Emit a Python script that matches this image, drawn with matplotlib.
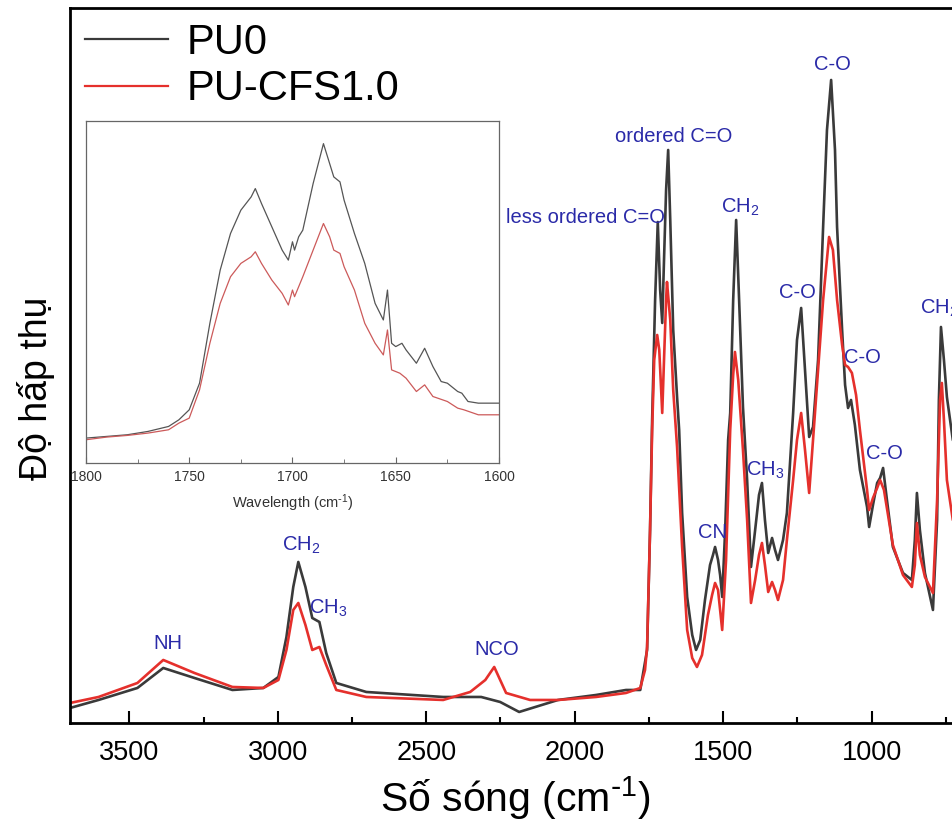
import matplotlib
matplotlib.use("Agg")
import matplotlib.pyplot as plt
from matplotlib.ticker import MultipleLocator

plt.rcParams["font.family"] = ["Liberation Sans", "DejaVu Sans"]
plt.rcParams["mathtext.default"] = "regular"

# ---- main FTIR spectra (wavenumber cm-1, absorbance a.u.) ----
wn_pu0 = [3700, 3604, 3473, 3386, 3281, 3153, 3049, 2998, 2971, 2948, 2931, 2907,
          2884, 2860, 2837, 2803, 2702, 2443, 2315, 2251, 2187, 2056, 1928, 1827,
          1779, 1756, 1746, 1739, 1729, 1720, 1712, 1705, 1699, 1692, 1685, 1678,
          1668, 1655, 1648, 1638, 1621, 1604, 1591, 1577, 1561, 1544, 1534, 1527,
          1517, 1510, 1503, 1493, 1483, 1476, 1466, 1456, 1446, 1433, 1419, 1406,
          1392, 1379, 1369, 1359, 1348, 1335, 1325, 1315, 1298, 1285, 1264, 1251,
          1237, 1224, 1210, 1197, 1180, 1163, 1150, 1136, 1123, 1116, 1099, 1089,
          1079, 1069, 1056, 1039, 1015, 1008, 995, 981, 971, 961, 948, 928, 894,
          864, 854, 847, 837, 820, 793, 779, 773, 766, 756, 746, 726, 650]
abs_pu0 = [0.15, 0.23, 0.35, 0.55, 0.45, 0.33, 0.35, 0.46, 0.86, 1.36, 1.61, 1.36,
           1.05, 1.01, 0.70, 0.40, 0.31, 0.26, 0.26, 0.21, 0.11, 0.23, 0.28, 0.33,
           0.33, 0.73, 1.93, 3.03, 4.23, 5.01, 4.33, 4.00, 4.63, 5.33, 5.73, 5.03,
           3.93, 3.26, 2.93, 2.10, 1.26, 0.88, 0.73, 0.83, 1.23, 1.58, 1.68, 1.76,
           1.63, 1.48, 1.26, 1.93, 2.83, 3.10, 4.23, 5.03, 4.23, 3.16, 2.43, 1.56,
           1.93, 2.28, 2.40, 2.03, 1.70, 1.85, 1.73, 1.63, 1.83, 2.10, 3.10, 3.83,
           4.15, 3.53, 2.86, 2.96, 3.63, 4.96, 5.93, 6.43, 5.73, 4.96, 3.93, 3.38,
           3.15, 3.23, 2.98, 2.53, 2.16, 1.96, 2.18, 2.40, 2.45, 2.55, 2.23, 1.76, 1.50,
           1.43, 1.83, 2.30, 1.93, 1.50, 1.13, 2.03, 3.23, 3.96, 3.63, 3.26, 2.83, 2.40]

wn_cfs = [3700, 3604, 3473, 3386, 3281, 3153, 3049, 2998, 2971, 2948, 2931, 2907,
          2884, 2860, 2837, 2803, 2702, 2443, 2352, 2301, 2271, 2251, 2231, 2150,
          2056, 1928, 1827, 1779, 1763, 1756, 1746, 1739, 1732, 1722, 1715, 1705,
          1699, 1692, 1689, 1678, 1668, 1655, 1638, 1621, 1604, 1588, 1571, 1551,
          1537, 1527, 1517, 1503, 1490, 1476, 1466, 1460, 1449, 1433, 1419, 1406,
          1392, 1379, 1369, 1359, 1348, 1335, 1325, 1315, 1298, 1285, 1264, 1251,
          1237, 1224, 1210, 1197, 1180, 1163, 1143, 1130, 1116, 1099, 1089, 1079,
          1066, 1052, 1039, 1015, 1008, 995, 981, 971, 958, 928, 894, 864, 854, 847,
          837, 820, 793, 779, 769, 763, 756, 746, 726, 650]
abs_cfs = [0.20, 0.26, 0.40, 0.63, 0.50, 0.36, 0.35, 0.43, 0.73, 1.13, 1.20, 0.98,
           0.73, 0.76, 0.58, 0.33, 0.26, 0.23, 0.31, 0.43, 0.56, 0.43, 0.30, 0.23,
           0.23, 0.26, 0.30, 0.35, 0.53, 0.76, 1.93, 2.93, 3.63, 3.88, 3.73, 3.10,
           3.63, 4.23, 4.41, 4.03, 3.33, 2.76, 1.76, 0.93, 0.65, 0.56, 0.68, 1.08,
           1.28, 1.40, 1.33, 0.93, 1.63, 2.93, 3.48, 3.71, 3.43, 2.73, 2.03, 1.20,
           1.43, 1.68, 1.80, 1.58, 1.31, 1.41, 1.33, 1.23, 1.43, 1.83, 2.43, 2.83,
           3.10, 2.73, 2.30, 2.83, 3.53, 4.23, 4.86, 4.73, 4.23, 3.78, 3.58, 3.56,
           3.50, 3.28, 2.93, 2.33, 2.13, 2.25, 2.35, 2.43, 2.33, 1.78, 1.48, 1.36,
           1.58, 2.00, 1.68, 1.46, 1.30, 2.23, 3.23, 3.40, 3.03, 2.43, 2.03, 1.90]

# ---- inset: carbonyl region ----
wn_inset_pu0 = [1800, 1790, 1780, 1770, 1760, 1755, 1750, 1745, 1740, 1735, 1730,
                1725, 1720, 1718, 1715, 1710, 1705, 1702, 1700, 1699, 1697, 1695,
                1690, 1685, 1683, 1680, 1677, 1675, 1670, 1665, 1660, 1656, 1654,
                1652, 1650, 1647, 1645, 1640, 1636, 1632, 1628, 1625, 1620, 1618,
                1615, 1610, 1600]
abs_inset_pu0 = [0.55, 0.60, 0.65, 0.75, 0.90, 1.10, 1.40, 2.20, 4.00, 5.60, 6.70,
                 7.40, 7.80, 8.05, 7.60, 6.90, 6.20, 5.90, 6.45, 6.20, 6.60, 6.80,
                 8.20, 9.40, 9.00, 8.40, 8.25, 7.70, 6.70, 5.80, 4.60, 4.10, 5.00,
                 3.40, 3.30, 3.40, 3.20, 2.80, 3.25, 2.70, 2.25, 2.20, 1.95, 1.90,
                 1.65, 1.60, 1.60]
wn_inset_cfs = [1800, 1790, 1780, 1770, 1760, 1755, 1750, 1745, 1740, 1735, 1730,
                1725, 1720, 1718, 1715, 1710, 1705, 1702, 1700, 1699, 1695, 1690,
                1685, 1682, 1680, 1677, 1675, 1670, 1665, 1660, 1656, 1654, 1652,
                1648, 1645, 1640, 1636, 1632, 1625, 1620, 1617, 1610, 1600]
abs_inset_cfs = [0.50, 0.58, 0.63, 0.70, 0.80, 1.00, 1.15, 2.00, 3.40, 4.60, 5.40,
                 5.80, 6.00, 6.15, 5.80, 5.30, 4.90, 4.55, 5.00, 4.80, 5.40, 6.20,
                 7.00, 6.60, 6.20, 6.10, 5.70, 5.00, 4.00, 3.40, 3.05, 3.80, 2.60,
                 2.50, 2.35, 1.95, 2.15, 1.80, 1.65, 1.45, 1.40, 1.25, 1.25]

# band assignments: (text, wavenumber, absorbance, ha)
bands = [
    ("NH", 3369, 0.79, "center"),
    ("CH$_2$", 2921, 1.78, "center"),
    ("CH$_3$", 2830, 1.15, "center"),
    ("NCO", 2264, 0.73, "center"),
    ("less ordered C=O", 1695, 5.05, "right"),
    ("ordered C=O", 1668, 5.86, "center"),
    ("CH$_2$", 1443, 5.16, "center"),
    ("CN", 1534, 1.90, "center"),
    ("CH$_3$", 1359, 2.53, "center"),
    ("C-O", 1251, 4.30, "center"),
    ("C-O", 1133, 6.58, "center"),
    ("C-O", 1029, 3.65, "center"),
    ("C-O", 955, 2.69, "center"),
    ("CH$_2$", 772, 4.15, "center"),
]

C_PU0 = "#3a3a3a"
C_CFS = "#e5302c"
C_BAND = "#2a2aa8"

fig = plt.figure(figsize=(9.53, 8.21), dpi=100)
ax = fig.add_axes([0.0735, 0.1194, 0.950, 0.8709])

ax.plot(wn_pu0, abs_pu0, color=C_PU0, lw=1.9, label="PU0")
ax.plot(wn_cfs, abs_cfs, color=C_CFS, lw=1.9, label="PU-CFS1.0")
ax.set_xlim(3700, 650)
ax.set_ylim(0, 7.15)

for txt, x, y, ha in bands:
    ax.text(x, y, txt, color=C_BAND, fontsize=14.5, ha=ha, va="center")

ax.xaxis.set_major_locator(MultipleLocator(500))
ax.xaxis.set_minor_locator(MultipleLocator(250))
ax.set_yticks([])
ax.tick_params(axis="x", which="major", direction="in", length=8.5, width=1.5,
               labelsize=19.5, pad=12)
ax.tick_params(axis="x", which="minor", direction="in", length=4.5, width=1.5)
for sp in ax.spines.values():
    sp.set_linewidth(2.0)

ax.set_xlabel(r"Số sóng (cm$^{\text{-}1}$)", fontsize=29.5)
ax.xaxis.set_label_coords(0.492, -0.071)
ax.set_ylabel("Độ hấp thụ", fontsize=27)
ax.yaxis.set_label_coords(-0.017, 0.468)

leg = ax.legend(loc="upper left", bbox_to_anchor=(0.0, 1.0), frameon=False,
                fontsize=30, handlelength=2.0, handletextpad=0.45,
                labelspacing=0.16, borderaxespad=0.15, borderpad=0.2)
for h in leg.get_lines():
    h.set_linewidth(1.6)

# inset
axi = fig.add_axes([0.0902, 0.436, 0.4334, 0.4166])
axi.plot(wn_inset_pu0, abs_inset_pu0, color="#555555", lw=0.9)
axi.plot(wn_inset_cfs, abs_inset_cfs, color="#cc5a5a", lw=0.9)
axi.set_xlim(1800, 1600)
axi.set_ylim(-0.2, 10.08)
axi.set_yticks([])
axi.xaxis.set_major_locator(MultipleLocator(50))
axi.xaxis.set_minor_locator(MultipleLocator(25))
axi.tick_params(axis="x", which="both", direction="in", labelsize=10, pad=5,
                color="#666666", labelcolor="#333333")
axi.tick_params(axis="x", which="major", length=4)
axi.tick_params(axis="x", which="minor", length=3)
for sp in axi.spines.values():
    sp.set_linewidth(0.9)
    sp.set_color("#666666")
axi.set_xlabel(r"Wavelength (cm$^{\text{-}1}$)", fontsize=10.5, color="#333333",
               labelpad=6)

fig.savefig("out.png", dpi=100)
